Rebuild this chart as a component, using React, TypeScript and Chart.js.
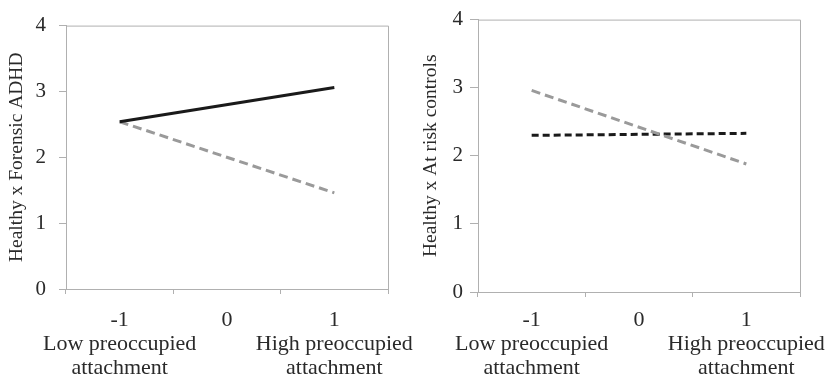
import React, { useEffect, useRef } from "react";
import { Chart, registerables } from "chart.js";

Chart.register(...registerables);

const xLabels: string[][] = [
  ["-1", "Low preoccupied", "attachment"],
  ["0"],
  ["1", "High preoccupied", "attachment"],
];
const yTicks = [0, 1, 2, 3, 4];

const leftTitle = "Healthy x Forensic ADHD";
const leftSolidBlack = [2.54, null, 3.06];
const leftGrayDashed = [2.54, null, 1.46];

const rightTitle = "Healthy x At risk controls";
const rightGrayDashed = [2.96, null, 1.88];
const rightBlackDashed = [2.3, null, 2.33];

const FONT = "'Liberation Serif', 'Times New Roman', serif";
const TEXT = "#2a2a2a";
const AXIS = "#b0b0b0";
const BLACK = "#1a1a1a";
const GRAY = "#9a9a9a";

const framePlugin = {
  id: "frame",
  afterDraw(chart: any) {
    const { ctx, chartArea } = chart;
    ctx.save();
    ctx.strokeStyle = AXIS;
    ctx.lineWidth = 1;
    ctx.beginPath();
    ctx.moveTo(chartArea.left, chartArea.top + 0.5);
    ctx.lineTo(chartArea.right + 0.5, chartArea.top + 0.5);
    ctx.lineTo(chartArea.right + 0.5, chartArea.bottom);
    ctx.stroke();
    ctx.restore();
  },
};

type PanelCfg = {
  title: string;
  datasets: any[];
  width: number;
  axisWidth: number;
  axisHeight: number;
  padTop: number;
  padRight: number;
  titlePad: number;
  yTickLen: number;
  yTickPad: number;
  xTickPad: number;
};

function makeConfig(p: PanelCfg): any {
  return {
    type: "line",
    data: { labels: xLabels, datasets: p.datasets },
    plugins: [framePlugin],
    options: {
      animation: false,
      responsive: false,
      layout: { padding: { top: p.padTop, right: p.padRight, left: 0, bottom: 0 } },
      plugins: { legend: { display: false }, tooltip: { enabled: false } },
      elements: { point: { radius: 0 } },
      scales: {
        x: {
          type: "category",
          offset: true,
          grid: {
            display: true,
            offset: true,
            drawOnChartArea: false,
            drawTicks: true,
            tickLength: 5,
            color: AXIS,
          },
          border: { display: true, color: AXIS },
          ticks: {
            color: TEXT,
            padding: p.xTickPad,
            maxRotation: 0,
            autoSkip: false,
            font: { family: FONT, size: 22, lineHeight: 1.09 },
          },
          afterFit: (s: any) => {
            s.height = p.axisHeight;
          },
        },
        y: {
          min: 0,
          max: 4,
          afterBuildTicks: (s: any) => {
            s.ticks = yTicks.map((v) => ({ value: v }));
          },
          grid: {
            display: true,
            drawOnChartArea: false,
            drawTicks: true,
            tickLength: p.yTickLen,
            color: AXIS,
          },
          border: { display: true, color: AXIS },
          ticks: {
            color: TEXT,
            padding: p.yTickPad,
            font: { family: FONT, size: 21 },
          },
          title: {
            display: true,
            text: p.title,
            color: TEXT,
            padding: { top: p.titlePad, bottom: 0 },
            font: { family: FONT, size: 19.5 },
          },
          afterFit: (s: any) => {
            s.width = p.axisWidth;
          },
        },
      },
    },
  };
}

function Panel({ cfg, left }: { cfg: PanelCfg; left: number }) {
  const ref = useRef<HTMLCanvasElement | null>(null);
  useEffect(() => {
    if (!ref.current) return;
    const chart = new Chart(ref.current, makeConfig(cfg));
    return () => chart.destroy();
  }, []);
  return (
    <canvas
      ref={ref}
      width={cfg.width}
      height={382}
      style={{ position: "absolute", left, top: 0, width: cfg.width, height: 382 }}
    />
  );
}

const leftCfg: PanelCfg = {
  title: leftTitle,
  datasets: [
    {
      label: "Forensic ADHD",
      data: leftSolidBlack,
      borderColor: BLACK,
      borderWidth: 3,
      spanGaps: true,
      fill: false,
    },
    {
      label: "Healthy",
      data: leftGrayDashed,
      borderColor: GRAY,
      borderWidth: 3,
      borderDash: [9, 5],
      spanGaps: true,
      fill: false,
    },
  ],
  width: 450,
  axisWidth: 66,
  axisHeight: 93,
  padTop: 16,
  padRight: 62,
  titlePad: 5,
  yTickLen: 7,
  yTickPad: 13,
  xTickPad: 14,
};

const rightCfg: PanelCfg = {
  title: rightTitle,
  datasets: [
    {
      label: "Healthy",
      data: rightGrayDashed,
      borderColor: GRAY,
      borderWidth: 3,
      borderDash: [9, 5],
      spanGaps: true,
      fill: false,
    },
    {
      label: "At risk controls",
      data: rightBlackDashed,
      borderColor: BLACK,
      borderWidth: 3,
      borderDash: [7, 4],
      spanGaps: true,
      fill: false,
    },
  ],
  width: 450,
  axisWidth: 60,
  axisHeight: 90,
  padTop: 18,
  padRight: 68,
  titlePad: 1,
  yTickLen: 8,
  yTickPad: 7,
  xTickPad: 11,
};

export default function App() {
  return (
    <div
      style={{
        position: "fixed",
        left: 0,
        top: 0,
        width: 838,
        height: 382,
        background: "#ffffff",
        overflow: "hidden",
      }}
    >
      <Panel cfg={leftCfg} left={0} />
      <Panel cfg={rightCfg} left={418} />
    </div>
  );
}
